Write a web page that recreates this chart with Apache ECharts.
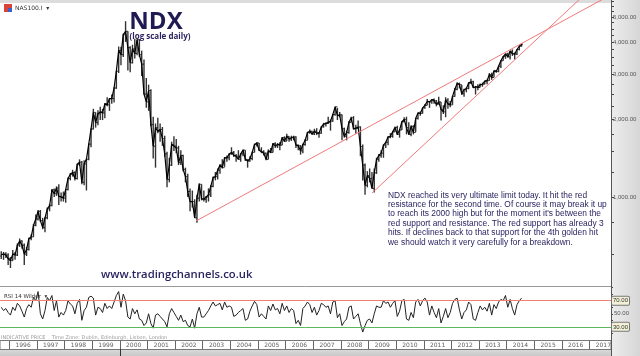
<!DOCTYPE html>
<html><head><meta charset="utf-8">
<script src="https://cdn.jsdelivr.net/npm/echarts@6/dist/echarts.min.js"></script>
<style>html,body{margin:0;padding:0;background:#fff}#c{width:640px;height:356px}</style>
</head><body><div id="c"></div>
<script>
// ---- data (monthly) ----
const firstMonth = [1995, 9];
const closes = [598,600,595,576,
566,600,595,650,675,650,600,625,690,700,775,821,
880,810,760,830,900,925,1065,1030,1085,1005,1000,990,
1070,1180,1225,1245,1180,1340,1365,1140,1345,1400,1605,1836,
2130,1945,2105,2140,2120,2300,2280,2410,2410,2650,3080,3708,
3570,4270,4400,3800,3320,3760,3610,4080,3570,3280,2510,2342,
2590,1910,1575,1860,1800,1830,1685,1470,1170,1330,1600,1577,
1550,1360,1450,1280,1200,1050,960,960,830,990,1120,984,
980,1000,1020,1100,1190,1200,1270,1330,1300,1420,1420,1468,
1490,1450,1440,1400,1470,1520,1400,1380,1410,1490,1600,1621,
1520,1500,1480,1400,1510,1490,1610,1580,1600,1590,1700,1645,
1720,1680,1700,1710,1590,1580,1510,1600,1660,1780,1800,1757,
1800,1770,1770,1870,1920,1930,1950,1970,2090,2240,2070,2085,
1840,1720,1780,1950,2030,1840,1850,1870,1570,1330,1110,1212,
1180,1080,1240,1400,1450,1480,1590,1630,1710,1720,1790,1860,
1750,1820,1960,2000,1860,1750,1880,1780,2020,2120,2110,2218,
2270,2350,2340,2390,2360,2290,2340,2190,2140,2380,2300,2278,
2460,2620,2760,2730,2520,2610,2640,2770,2800,2660,2680,2661,
2730,2740,2820,2830,2990,2910,3090,3070,3220,3380,3510,3592,
3500,3680,3600,3590,3740,3850,3920];
const highs = [615,612,610,605,
585,622,612,660,690,680,660,640,695,715,785,855,
890,890,830,835,910,940,1075,1080,1100,1120,1040,1050,
1075,1190,1240,1275,1260,1345,1400,1380,1390,1410,1615,1850,
2200,2130,2170,2240,2200,2320,2440,2420,2500,2670,3090,3840,
3830,4300,4816,4400,3850,3900,4120,4100,4100,3700,3420,2900,
2730,2620,2050,1930,2030,1930,1870,1730,1500,1420,1640,1720,
1680,1580,1520,1460,1300,1230,1080,1060,980,1020,1130,1120,
1060,1010,1080,1110,1200,1250,1290,1340,1400,1430,1450,1480,
1560,1510,1470,1520,1480,1530,1520,1400,1440,1500,1610,1630,
1620,1560,1520,1490,1530,1550,1620,1630,1620,1630,1710,1720,
1760,1720,1730,1730,1720,1600,1590,1610,1680,1790,1830,1810,
1840,1850,1790,1880,1940,1950,2050,2000,2100,2240,2220,2140,
2090,1860,1810,1970,2050,2060,1910,1980,1880,1600,1350,1260,
1290,1250,1290,1420,1470,1520,1600,1640,1720,1770,1800,1880,
1890,1830,1970,2040,2050,1950,1900,1900,2030,2130,2150,2220,
2290,2400,2360,2400,2410,2380,2450,2340,2270,2440,2420,2360,
2470,2650,2790,2780,2720,2630,2660,2790,2880,2830,2700,2740,
2760,2780,2830,2860,3030,3040,3100,3110,3240,3400,3520,3600,
3630,3710,3740,3640,3750,3860,3960];
const lows = [575,570,580,545,
530,565,570,590,640,630,545,590,620,680,700,770,
810,800,750,730,820,880,920,1000,1010,930,960,960,
950,1060,1160,1200,1160,1170,1320,1120,1110,1060,1390,1560,
1830,1860,1900,1990,1990,2020,2250,2160,2300,2330,2630,3030,
3250,3500,4000,3100,3050,3300,3450,3550,3500,2950,2500,2220,
2160,1880,1410,1300,1770,1640,1580,1430,1090,1140,1320,1510,
1480,1330,1330,1260,1140,1000,880,910,830,795,960,970,
960,950,960,1000,1090,1160,1170,1230,1290,1310,1370,1390,
1460,1430,1370,1400,1370,1440,1380,1300,1370,1390,1490,1570,
1510,1480,1450,1390,1400,1480,1490,1550,1550,1520,1590,1640,
1650,1640,1650,1660,1550,1520,1460,1480,1580,1660,1760,1740,
1740,1740,1700,1760,1860,1880,1920,1810,1960,2070,1990,2040,
1660,1700,1660,1760,1950,1830,1760,1840,1440,1160,1020,1090,
1140,1080,1040,1230,1370,1420,1420,1550,1590,1690,1700,1790,
1740,1700,1820,1950,1750,1740,1720,1750,1790,2000,2070,2110,
2200,2270,2220,2300,2300,2250,2290,1980,2100,2040,2200,2230,
2280,2450,2600,2640,2490,2450,2550,2620,2750,2650,2500,2600,
2670,2680,2740,2740,2830,2850,2920,3040,3050,3170,3380,3440,
3480,3420,3530,3420,3560,3710,3840];
const rsi = [60,55,58,52,
48,60,55,66,62,54,45,58,64,60,75,70,
84,50,42,55,75,70,78,55,70,45,52,48,
55,70,65,62,50,66,72,40,55,60,75,77,
74,48,60,58,52,66,58,62,58,68,78,84,
60,80,70,45,42,58,50,56,42,40,32,36,
50,35,28,48,50,46,42,38,30,50,58,52,
46,40,48,38,40,32,30,42,28,50,60,45,
45,50,55,62,68,62,64,66,56,68,60,62,
60,46,48,52,55,58,40,42,54,62,69,64,
45,50,46,42,62,55,65,56,58,50,66,55,
62,52,58,55,35,40,32,58,62,68,64,52,
60,48,55,66,64,60,62,50,68,70,44,50,
32,38,42,60,62,42,46,50,35,22,32,40,
42,36,50,62,60,60,70,66,68,60,66,70,
46,54,70,72,42,40,52,44,68,72,62,70,
74,68,48,62,52,44,58,36,46,58,44,52,
66,72,74,56,42,52,56,68,64,42,40,52,
62,56,60,54,66,48,64,58,68,72,70,78,
60,72,58,48,64,70,74];
const resistanceLine = [[2002.76, 807], [2018.8, 7005]];
const supportLine = [[2009.13, 1036], [2017.0, 6367]];
const priceLabels = [1000, 2000, 3000, 4000, 5000];
const priceTicks = [600, 800, 1000, 1250, 1500, 1750, 2000, 2250, 2500, 2750, 3000, 3250, 3500, 3750, 4000, 4250, 4500, 4750, 5000, 5250, 5500, 5750];
const rsiLevels = [70, 30];
const rsiTicks = [20, 30, 40, 50, 60, 70, 80, 90];
const years = [1996,1997,1998,1999,2000,2001,2002,2003,2004,2005,2006,2007,2008,2009,2010,2011,2012,2013,2014,2015,2016,2017];
const annotation = [
 "NDX reached its very ultimate limit today. It hit the red",
 "resistance for the second time. Of course it may break it up",
 "to reach its 2000 high but for the moment it's between the",
 "red support and resistance. The red support has already 3",
 "hits. If declines back to that support for the 4th golden hit",
 "we should watch it very carefully for a breakdown."
];

// ---- build ----
const tOf = i => { const m = firstMonth[1] - 1 + i; return firstMonth[0] + Math.floor(m / 12) + ((m % 12) + 0.5) / 12; };
const ohlc = closes.map((c, i) => [tOf(i), i ? closes[i - 1] : 590, c, lows[i], highs[i]]);
const closeLine = closes.map((c, i) => [tOf(i), c]);
const rsiLine = rsi.map((v, i) => [tOf(i), v]);
const XMIN = 1995.6634, XMAX = 2017.777;
const fmt = v => Number(v).toLocaleString('en-US', {minimumFractionDigits: 2, maximumFractionDigits: 2});
const axFont = {fontFamily: 'Liberation Sans', fontSize: 6, color: '#555'};

const chart = echarts.init(document.getElementById('c'), null, {renderer: 'canvas'});
chart.setOption({
  animation: false,
  backgroundColor: '#fff',
  grid: [
    {left: 0, right: 29, top: 0, height: 286},
    {left: 0, right: 29, top: 287, height: 49},
    {left: 0, right: 29, top: 341, height: 8}
  ],
  xAxis: [0, 1, 2].map(g => ({type: 'value', gridIndex: g, min: XMIN, max: XMAX, show: false})),
  yAxis: [
    {type: 'log', logBase: 10, gridIndex: 0, min: 451.2, max: 5821, position: 'right',
     axisLine: {show: true, lineStyle: {color: '#444'}},
     axisTick: {show: true, length: 3, lineStyle: {color: '#444'}, customValues: priceTicks},
     axisLabel: {show: true, margin: 2, customValues: priceLabels, formatter: fmt, ...axFont},
     splitLine: {show: false}, minorTick: {show: false}},
    {type: 'value', gridIndex: 1, min: 16, max: 91, position: 'right',
     axisLine: {show: true, lineStyle: {color: '#444'}},
     axisTick: {show: true, length: 2, lineStyle: {color: '#444'}, customValues: rsiTicks},
     axisLabel: {show: true, margin: 3, customValues: [50], formatter: fmt, ...axFont},
     splitLine: {show: false}},
    {type: 'value', gridIndex: 2, min: 0, max: 1, show: false}
  ],
  series: [
    {type: 'custom', xAxisIndex: 0, yAxisIndex: 0, data: ohlc, z: 3,
     renderItem: (p, api) => {
       const lo = api.coord([api.value(0), api.value(3)]);
       const hi = api.coord([api.value(0), api.value(4)]);
       const o = api.coord([api.value(0), api.value(1)]);
       const c = api.coord([api.value(0), api.value(2)]);
       return {type: 'group', children: [
         {type: 'line', shape: {x1: lo[0], y1: lo[1], x2: hi[0], y2: hi[1]}, style: {stroke: '#333', lineWidth: 1.4}},
         {type: 'line', shape: {x1: o[0] - 1.2, y1: o[1], x2: o[0], y2: o[1]}, style: {stroke: '#222', lineWidth: 1}},
         {type: 'line', shape: {x1: c[0], y1: c[1], x2: c[0] + 1.2, y2: c[1]}, style: {stroke: '#222', lineWidth: 1}}
       ]};
     }},
    {type: 'line', xAxisIndex: 0, yAxisIndex: 0, data: closeLine, showSymbol: false, z: 4,
     lineStyle: {color: '#000', width: 1.2}},
    {type: 'line', xAxisIndex: 0, yAxisIndex: 0, data: resistanceLine, showSymbol: false, clip: true, z: 5,
     lineStyle: {color: '#f07a7a', width: 1}},
    {type: 'line', xAxisIndex: 0, yAxisIndex: 0, data: supportLine, showSymbol: false, clip: true, z: 5,
     lineStyle: {color: '#f07a7a', width: 1}},
    {type: 'line', xAxisIndex: 1, yAxisIndex: 1, data: rsiLine, showSymbol: false, z: 4,
     lineStyle: {color: '#222', width: 1},
     markLine: {silent: true, symbol: 'none',
       data: rsiLevels.map((v, k) => ({yAxis: v, lineStyle: {color: k ? '#5cb85c' : '#f08070', width: 1, type: 'solid'}})),
       label: {position: 'end', distance: 1, formatter: d => fmt(d.value), fontFamily: 'Liberation Sans', fontSize: 6, color: '#333',
         backgroundColor: '#f3f0d8', borderColor: '#777', borderWidth: 1, padding: [1, 1], borderRadius: 1}}},
    {type: 'scatter', xAxisIndex: 2, yAxisIndex: 2, symbolSize: 0, silent: true,
     data: years.map(y => [y + 0.5, 0.5, y]),
     label: {show: true, position: 'inside', formatter: d => String(d.value[2]), fontFamily: 'DejaVu Sans', fontSize: 6, color: '#333'},
     markLine: {silent: true, symbol: 'none', label: {show: false},
       lineStyle: {color: '#666', width: 1, type: 'solid'},
       data: years.map(y => ({xAxis: y}))}}
  ],
  graphic: [
    {type: 'rect', shape: {x: 0, y: 0, width: 640, height: 3}, style: {fill: '#dcdcdc'}, z: -1},
    {type: 'rect', shape: {x: 611, y: 0, width: 29, height: 356},
     style: {fill: new echarts.graphic.LinearGradient(0, 0, 1, 0, [{offset: 0, color: '#ededed'}, {offset: 1, color: '#d6d6d6'}])}, z: -1},
    {type: 'line', shape: {x1: 611.5, y1: 0, x2: 611.5, y2: 356}, style: {stroke: '#555', lineWidth: 1}, z: 1},
    {type: 'line', shape: {x1: 0, y1: 286.5, x2: 611, y2: 286.5}, style: {stroke: '#999', lineWidth: 1}, z: 1},
    {type: 'rect', shape: {x: 0, y: 340.5, width: 611, height: 9}, style: {fill: '#fff', stroke: '#777', lineWidth: 1}, z: 0},
    {type: 'rect', shape: {x: 0, y: 350, width: 611, height: 6},
     style: {fill: new echarts.graphic.LinearGradient(0, 0, 0, 1, [{offset: 0, color: '#d9d9d9'}, {offset: 1, color: '#c8c8c8'}])}, z: 0},
    {type: 'line', shape: {x1: 120.5, y1: 347, x2: 120.5, y2: 356}, style: {stroke: '#333', lineWidth: 1}, z: 1},
    {type: 'rect', shape: {x: 4, y: 4, width: 8, height: 8}, style: {fill: '#d9443a'}, z: 10},
    {type: 'rect', shape: {x: 8, y: 8, width: 4, height: 4}, style: {fill: '#3a62c9'}, z: 10},
    {type: 'text', x: 15, y: 8, style: {text: 'NAS100.I  \u25BE', font: '6px "DejaVu Sans"', fill: '#333', verticalAlign: 'middle'}, z: 10},
    {type: 'text', x: 156, y: 22, style: {text: 'NDX', font: 'bold 24px "Open Sans"', fill: '#1f1a52', align: 'center', verticalAlign: 'middle'}, z: 10},
    {type: 'text', x: 160, y: 37, style: {text: '(log scale daily)', font: 'bold 8px "Open Sans"', fill: '#2a2360', align: 'center', verticalAlign: 'middle'}, z: 10},
    {type: 'text', x: 101, y: 275, style: {text: 'www.tradingchannels.co.uk', font: '600 11.3px "Open Sans"', fill: '#2a2460', verticalAlign: 'middle'}, z: 10},
    {type: 'text', x: 388, y: 190.5, style: {text: annotation.join('\n'), font: '8.4px "Liberation Sans"', lineHeight: 9.4, fill: '#2a2460', verticalAlign: 'top'}, z: 10},
    {type: 'text', x: 4, y: 297, style: {text: 'RSI 14 Wilder  \u25BE', font: '5.5px "DejaVu Sans"', fill: '#333', verticalAlign: 'middle'}, z: 10},
    {type: 'text', x: 1, y: 338, style: {text: 'INDICATIVE PRICE    Time Zone: Dublin, Edinburgh, Lisbon, London', font: '5px "DejaVu Sans"', fill: '#9a9a9a', verticalAlign: 'middle'}, z: 10}
  ]
});
</script></body></html>
